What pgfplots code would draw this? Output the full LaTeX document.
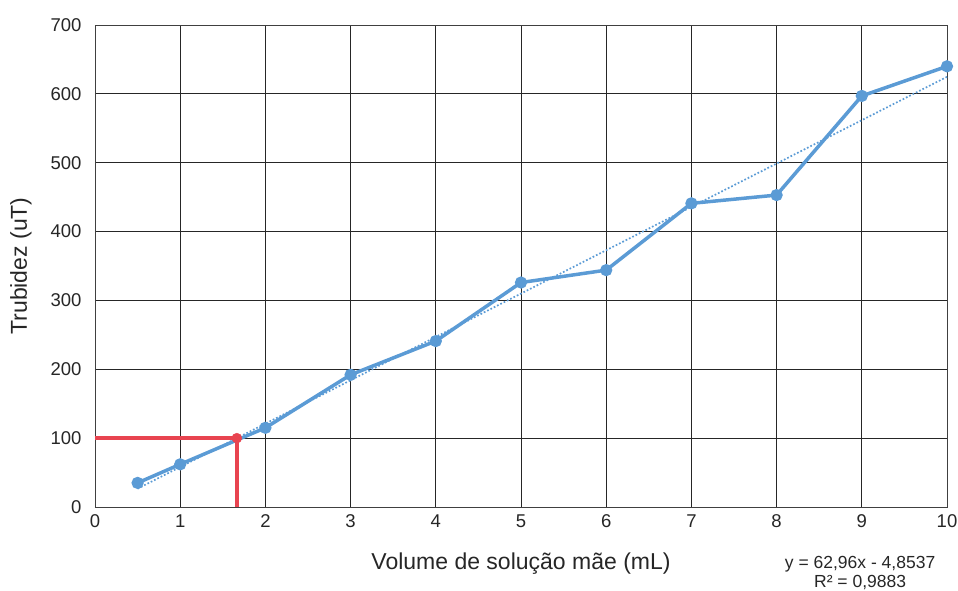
\documentclass[border=0pt]{standalone}
\usepackage{pgfplots}
\pgfplotsset{compat=1.18}
\usepackage{fontspec}
\setmainfont{Liberation Sans}
\definecolor{xlblue}{RGB}{91,155,213}
\definecolor{xlred}{RGB}{232,68,80}
\begin{document}
\begin{tikzpicture}
\begin{axis}[
  scale only axis,
  width=852pt, height=482pt,
  xmin=0, xmax=10, ymin=0, ymax=700,
  xtick={0,1,...,10}, ytick={0,100,...,700},
  grid=major,
  major grid style={black!85, line width=0.8pt},
  axis line style={black!75, line width=0.8pt},
  major tick length=0pt,
  tick label style={font=\fontsize{18.5}{21}\selectfont, text=black!85},
  /pgf/number format/assume math mode=true,
  xticklabel style={yshift=-4pt},
  yticklabel style={xshift=-10pt},
  xlabel={Volume de solução mãe (mL)},
  ylabel={Trubidez (uT)},
  label style={font=\fontsize{23}{26}\selectfont, text=black!85},
  xlabel style={yshift=-18pt},
  ylabel style={yshift=12pt},
  clip=false,
]
% red guide lines
\addplot[xlred, line width=3.8pt, forget plot] coordinates {(0,100) (1.665,100) (1.665,0)};
% trendline y = 62.96x - 4.8537
\addplot[xlblue, dotted, line width=1.7pt] coordinates {(0.5,26.63) (10,624.75)};
% data
\addplot[xlblue, line width=3.5pt, mark=*, mark size=4.3pt, mark options={solid, fill=xlblue, draw=xlblue}] coordinates {
  (0.5,35) (1,62) (2,115) (3,192) (4,241) (5,326) (6,344) (7,441) (8,453) (9,597) (10,640)
};
\addplot[only marks, mark=*, mark size=5pt, xlred] coordinates {(1.665,100)};
\node[font=\fontsize{17.5}{19}\selectfont, text=black!85, align=center, anchor=north, inner sep=1pt] at (axis cs:8.98,-70) {y = 62,96x - 4,8537\\R² = 0,9883};
\end{axis}
\pgfresetboundingbox
\path (current axis.south west) ++(-95pt,-83pt) rectangle ++(958pt,590pt);
\end{tikzpicture}
\end{document}
